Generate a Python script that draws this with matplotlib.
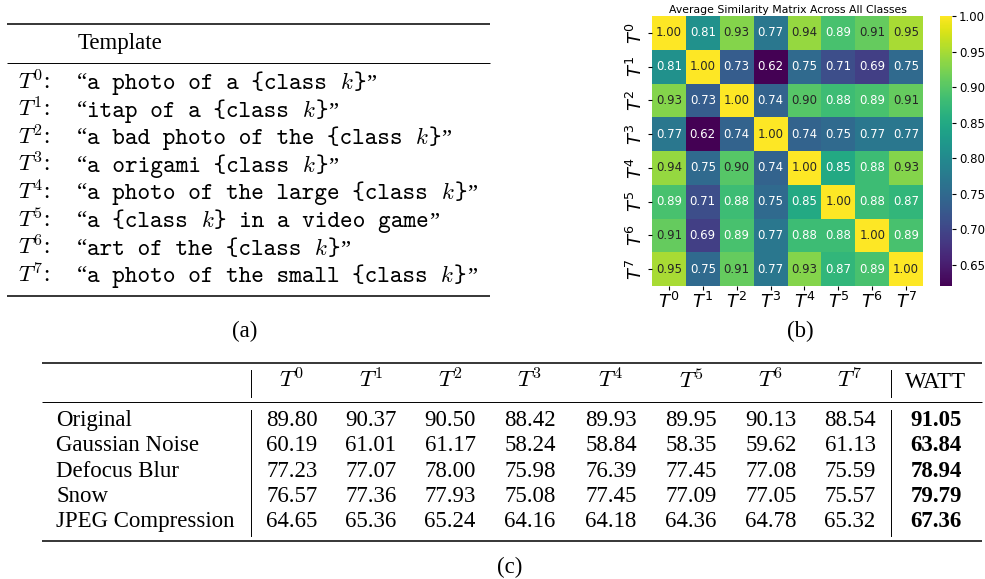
import os
import matplotlib
matplotlib.use("Agg")
import matplotlib.pyplot as plt
from matplotlib import font_manager
import numpy as np
import seaborn as sns

# prompt templates (table a)
template_ids = [0, 1, 2, 3, 4, 5, 6, 7]
templates = [
    "a photo of a {class k}",
    "itap of a {class k}",
    "a bad photo of the {class k}",
    "a origami {class k}",
    "a photo of the large {class k}",
    "a {class k} in a video game",
    "art of the {class k}",
    "a photo of the small {class k}",
]

# average cosine similarity between template embeddings (panel b)
similarity = np.array([
    [1.00, 0.81, 0.93, 0.77, 0.94, 0.89, 0.91, 0.95],
    [0.81, 1.00, 0.73, 0.62, 0.75, 0.71, 0.69, 0.75],
    [0.93, 0.73, 1.00, 0.74, 0.90, 0.88, 0.89, 0.91],
    [0.77, 0.62, 0.74, 1.00, 0.74, 0.75, 0.77, 0.77],
    [0.94, 0.75, 0.90, 0.74, 1.00, 0.85, 0.88, 0.93],
    [0.89, 0.71, 0.88, 0.75, 0.85, 1.00, 0.88, 0.87],
    [0.91, 0.69, 0.89, 0.77, 0.88, 0.88, 1.00, 0.89],
    [0.95, 0.75, 0.91, 0.77, 0.93, 0.87, 0.89, 1.00],
])

# accuracy per template under corruptions (table c)
conditions = ["Original", "Gaussian Noise", "Defocus Blur", "Snow", "JPEG Compression"]
acc_templates = [
    [89.80, 90.37, 90.50, 88.42, 89.93, 89.95, 90.13, 88.54],
    [60.19, 61.01, 61.17, 58.24, 58.84, 58.35, 59.62, 61.13],
    [77.23, 77.07, 78.00, 75.98, 76.39, 77.45, 77.08, 75.59],
    [76.57, 77.36, 77.93, 75.08, 77.45, 77.09, 77.05, 75.57],
    [64.65, 65.36, 65.24, 64.16, 64.18, 64.36, 64.78, 65.32],
]
acc_watt = [91.05, 63.84, 78.94, 79.79, 67.36]

SERIF = "Liberation Serif"
FS = 16.5
FS_TT = 17.3

# computer modern typewriter ships with matplotlib
tt_path = os.path.join(matplotlib.get_data_path(), "fonts", "ttf", "cmtt10.ttf")
font_manager.fontManager.addfont(tt_path)
MONO = font_manager.FontProperties(fname=tt_path).get_name()

fig = plt.figure(figsize=(9.85, 5.79), dpi=100)
canvas = fig.add_axes([0, 0, 1, 1])
canvas.set_xlim(0, 985)
canvas.set_ylim(579, 0)
canvas.axis("off")


def rule(x0, x1, y, lw):
    canvas.plot([x0, x1], [y, y], color="black", lw=lw, solid_capstyle="butt")


def txt(x, y, s, ha="left", weight="normal", size=FS, family=SERIF):
    return canvas.text(x, y, s, ha=ha, va="baseline", family=family, fontsize=size,
                       weight=weight, math_fontfamily="cm")


def after(prev, y, s, family, size=FS):
    # place a text piece right after the previous one on the same baseline
    return canvas.annotate(s, xy=(1, y), xycoords=(prev, "data"), va="baseline",
                           family=family, fontsize=size, math_fontfamily="cm")


# ---- (a) template table ----
rule(7, 490, 24, 1.1)
txt(78, 49, "Template")
rule(7, 490, 63, 0.7)
for i, (tid, tpl) in enumerate(zip(template_ids, templates)):
    y = 89 + i * 27.6
    txt(18, y, r"$T^{%d}$:" % tid)
    t = txt(77, y, "\u201c")
    head, tail = tpl.split(" k}")
    t = after(t, y, head + " ", MONO, FS_TT)
    t = after(t, y, "$k$", SERIF)
    t = after(t, y, "}" + tail, MONO, FS_TT)
    after(t, y, "\u201d", SERIF)
rule(7, 490, 296, 1.1)
txt(245, 337, "(a)", ha="center")

# ---- (b) similarity heatmap ----
ax = fig.add_axes([652 / 985, 1 - 286 / 579, 271 / 985, 270 / 579])
cax = fig.add_axes([940 / 985, 1 - 286 / 579, 12 / 985, 270 / 579])
tick_labels = [r"$T^{%d}$" % t for t in template_ids]
sns.heatmap(similarity, ax=ax, cbar_ax=cax, cmap="viridis", annot=True, fmt=".2f",
            annot_kws={"fontsize": 8.5}, xticklabels=tick_labels, yticklabels=tick_labels)
ax.set_title("Average Similarity Matrix Across All Classes", fontsize=7.8, pad=2)
ax.tick_params(axis="both", labelsize=13, length=3, pad=1)
plt.setp(ax.get_yticklabels(), rotation=90, va="center")
plt.setp(ax.get_xticklabels(), rotation=0)
cax.tick_params(labelsize=8.5, length=3, pad=2)
cax.set_yticks([0.65, 0.70, 0.75, 0.80, 0.85, 0.90, 0.95, 1.00])
txt(800, 337, "(b)", ha="center")

# ---- (c) robustness table ----
col_x = [292, 371, 450, 530, 611, 691, 771, 850]
watt_x = 936
rule(42, 982, 363, 1.1)
for tid, x in zip(template_ids, col_x):
    txt(x, 388, r"$T^{%d}$" % tid, ha="center")
txt(watt_x, 388, "WATT", ha="center")
rule(42, 982, 402, 0.7)
for r, name in enumerate(conditions):
    y = 426 + r * 25.3
    txt(56, y, name)
    for x, v in zip(col_x, acc_templates[r]):
        txt(x, y, f"{v:.2f}", ha="center")
    txt(watt_x, y, f"{acc_watt[r]:.2f}", ha="center", weight="bold")
rule(42, 982, 541, 1.1)
for vx in (251, 891):
    canvas.plot([vx, vx], [370, 397], color="black", lw=0.7)
    canvas.plot([vx, vx], [410, 536], color="black", lw=0.7)
txt(510, 573, "(c)", ha="center")

fig.savefig("out.png", dpi=100)
